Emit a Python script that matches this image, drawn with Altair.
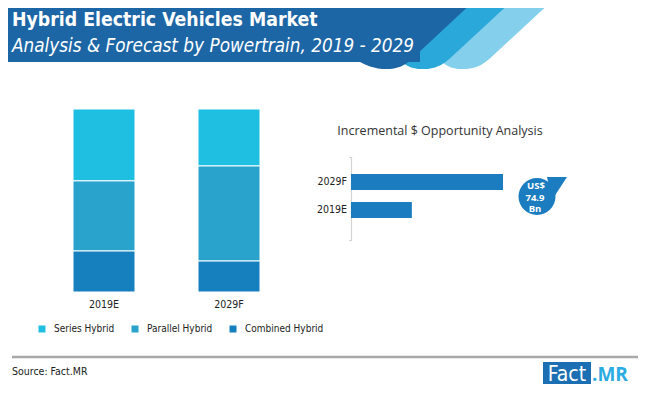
import altair as alt
import pandas as pd

# ---------------- data ----------------
years = ['2019E', '2029F']
segments = ['Series Hybrid', 'Parallel Hybrid', 'Combined Hybrid']
seg_colors = ['#1ebfe0', '#29a3cc', '#1580bd']
share_2019 = [39.3, 38.3, 22.4]
share_2029 = [31.1, 51.9, 16.9]
opp_years = ['2029F', '2019E']
opp_values = [124.9, 50.0]
bubble_lines = ['US$', '74.9', 'Bn']

title_1 = 'Hybrid Electric Vehicles Market'
title_2 = 'Analysis & Forecast by Powertrain, 2019 - 2029'
opp_title = 'Incremental $ Opportunity Analysis'
source_text = 'Source: Fact.MR'

NARROW = 'Liberation Sans Narrow, Arial Narrow, DejaVu Sans Condensed, sans-serif'
SANS = 'Open Sans, Noto Sans, sans-serif'

W, H = 634, 383
# layout scales: reference-picture pixels -> chart pixels (page margin 8px)
XS = alt.Scale(domain=[0, 650], range=[-8, 642], nice=False, zero=False)
YS = alt.Scale(domain=[0, 399], range=[-8, 391], nice=False, zero=False)
ONE = pd.DataFrame({'d': [0]})


def poly(rows, color):
    df = pd.DataFrame(rows, columns=['y', 'xl', 'xr'])
    return alt.Chart(df).mark_area(orient='horizontal', color=color).encode(
        y=alt.Y('y:Q', scale=YS, axis=None),
        x=alt.X('xl:Q', scale=XS, axis=None),
        x2='xr:Q')


def rect(x1, x2, y1, y2, color):
    df = pd.DataFrame({'x1': [x1], 'x2': [x2], 'y1': [y1], 'y2': [y2]})
    return alt.Chart(df).mark_rect(color=color).encode(
        x=alt.X('x1:Q', scale=XS, axis=None), x2='x2:Q',
        y=alt.Y('y1:Q', scale=YS, axis=None), y2='y2:Q')


def text(txt, x, y, **kw):
    df = pd.DataFrame({'t': [txt], 'x': [x], 'y': [y]})
    return alt.Chart(df).mark_text(**kw).encode(
        x=alt.X('x:Q', scale=XS, axis=None),
        y=alt.Y('y:Q', scale=YS, axis=None),
        text='t:N')


# ---------------- header ----------------
light = poly([(0, 425, 553), (58, 425, 490.4), (62, 442, 485.5), (65, 446, 481),
              (67.5, 451, 475), (69, 458, 467)], '#84cfec')
medium = poly([(0, 385, 513), (58, 385, 450.4), (62, 403, 445.5), (65, 406, 441),
               (67.5, 411, 435), (69, 418, 428)], '#2aa8da')
dark_rect = rect(0, 420, 0, 62, '#1d66a6')
dark_slant = poly([(0, 380, 475), (62, 380, 408.5)], '#1d66a6')
dark_lobe = poly([(61.5, 359, 408.9), (64, 364, 405.5), (66.5, 370, 401),
                  (68.5, 378, 394), (69, 382, 390)], '#1d66a6')
t1 = text(title_1, 12, 26, align='left', baseline='alphabetic', font=NARROW,
          fontSize=19.3, fontWeight='bold', color='white')
t2 = text(title_2, 12, 52, align='left', baseline='alphabetic', font=NARROW,
          fontSize=18.8, fontStyle='italic', color='white')

# ---------------- stacked bars ----------------
rows = []
for yr, shares in zip(years, [share_2019, share_2029]):
    for i, (seg, v) in enumerate(zip(segments, shares)):
        rows.append({'year': yr, 'segment': seg, 'share': v, 'ord': len(segments) - i})
stack_df = pd.DataFrame(rows)

xb = alt.Scale(domain=years, range=[65, 252], paddingInner=0.504, paddingOuter=0)
xb_mid = alt.Scale(type='point', domain=years, range=[96, 221], padding=0)
stack = alt.Chart(stack_df).mark_bar(stroke='white', strokeWidth=1).encode(
    x=alt.X('year:N', scale=xb, axis=None),
    y=alt.Y('share:Q', stack='normalize',
            scale=alt.Scale(domain=[0, 1], range=[284, 101], nice=False), axis=None),
    color=alt.Color('segment:N', scale=alt.Scale(domain=segments, range=seg_colors),
                    legend=alt.Legend(orient='none', direction='horizontal', legendX=29,
                                      legendY=316, title=None, symbolType='square',
                                      symbolSize=49, symbolStrokeWidth=0,
                                      labelFont=NARROW, labelFontSize=10,
                                      labelColor='#222', labelOffset=7,
                                      columnPadding=15, padding=0)),
    order=alt.Order('ord:Q', sort='ascending'))
year_lbl = alt.Chart(pd.DataFrame({'year': years})).mark_text(
    font=NARROW, fontSize=10.5, color='#222', baseline='middle').encode(
    x=alt.X('year:N', scale=xb_mid, axis=None), y=alt.value(297), text='year:N')

# ---------------- incremental opportunity ----------------
opp_df = pd.DataFrame({'year': opp_years, 'value': opp_values})
xo = alt.Scale(domain=[0, 124.9], range=[343, 495], nice=False, zero=True)
yo = alt.Scale(domain=opp_years, range=[160, 216], paddingInner=0.4286, paddingOuter=0.2143)
yo_mid = alt.Scale(type='point', domain=opp_years, range=[174, 202], padding=0)
opp_bars = alt.Chart(opp_df).mark_bar(color='#1b7dc0').encode(
    x=alt.X('value:Q', scale=xo, axis=None), y=alt.Y('year:N', scale=yo, axis=None))
opp_lbl = alt.Chart(opp_df).mark_text(
    font=NARROW, fontSize=10.5, color='#222', align='right', baseline='middle').encode(
    x=alt.value(339), y=alt.Y('year:N', scale=yo_mid, axis=None), text='year:N')
axis_line = alt.Chart(ONE).mark_rule(color='#d4d4d4', strokeWidth=1.2).encode(
    x=alt.value(343.5), y=alt.value(149), y2=alt.value(233))
serif_top = alt.Chart(ONE).mark_rule(color='#d4d4d4', strokeWidth=1).encode(
    x=alt.value(341), x2=alt.value(344), y=alt.value(149.5))
serif_bot = alt.Chart(ONE).mark_rule(color='#d4d4d4', strokeWidth=1).encode(
    x=alt.value(341), x2=alt.value(344), y=alt.value(232.5))
opp_t = text(opp_title, 440, 131, align='center', baseline='middle', font=SANS,
             fontSize=12.5, color='#333')

tail = poly([(177, 547, 567), (200, 552, 552)], '#1b7dc0')
circle = alt.Chart(pd.DataFrame({'x': [537], 'y': [196.5]})).mark_circle(
    size=1369, color='#1b7dc0', opacity=1).encode(
    x=alt.X('x:Q', scale=XS, axis=None), y=alt.Y('y:Q', scale=YS, axis=None))
bub_df = pd.DataFrame({'t': bubble_lines, 'x': [536, 535, 535], 'y': [186, 197.5, 209]})
bub_txt = alt.Chart(bub_df).mark_text(font=SANS, fontSize=9.5, fontWeight='bold',
                                      color='white', baseline='middle').encode(
    x=alt.X('x:Q', scale=XS, axis=None), y=alt.Y('y:Q', scale=YS, axis=None), text='t:N')

# ---------------- footer ----------------
foot_line = alt.Chart(ONE).mark_rule(color='#a9a9a9', strokeWidth=2.5).encode(
    x=alt.value(4), x2=alt.value(630), y=alt.value(349))
src = text(source_text, 12, 372, align='left', baseline='middle', font=NARROW,
           fontSize=10.5, color='#222')
logo_box = rect(543, 591, 362, 384, '#1d6fb4')
logo_a = text('Fact', 567, 381, align='center', baseline='alphabetic', font=NARROW,
              fontSize=21, color='white')
logo_b = text('.MR', 592, 381, align='left', baseline='alphabetic', font=SANS,
              fontSize=19, fontWeight='bold', color='#2aabe2')

layers = [light, medium, dark_rect, dark_slant, dark_lobe, t1, t2,
          stack, year_lbl,
          axis_line, serif_top, serif_bot, opp_bars, opp_lbl, opp_t, tail, circle, bub_txt,
          foot_line, src, logo_box, logo_a, logo_b]

chart = alt.layer(*layers).resolve_scale(
    x='independent', y='independent', color='independent'
).properties(
    width=W, height=H, autosize=alt.AutoSizeParams(type='none'), padding=0,
    background='white'
).configure_view(stroke=None)

chart.save('out.html', embed_options={'renderer': 'svg', 'actions': False})
